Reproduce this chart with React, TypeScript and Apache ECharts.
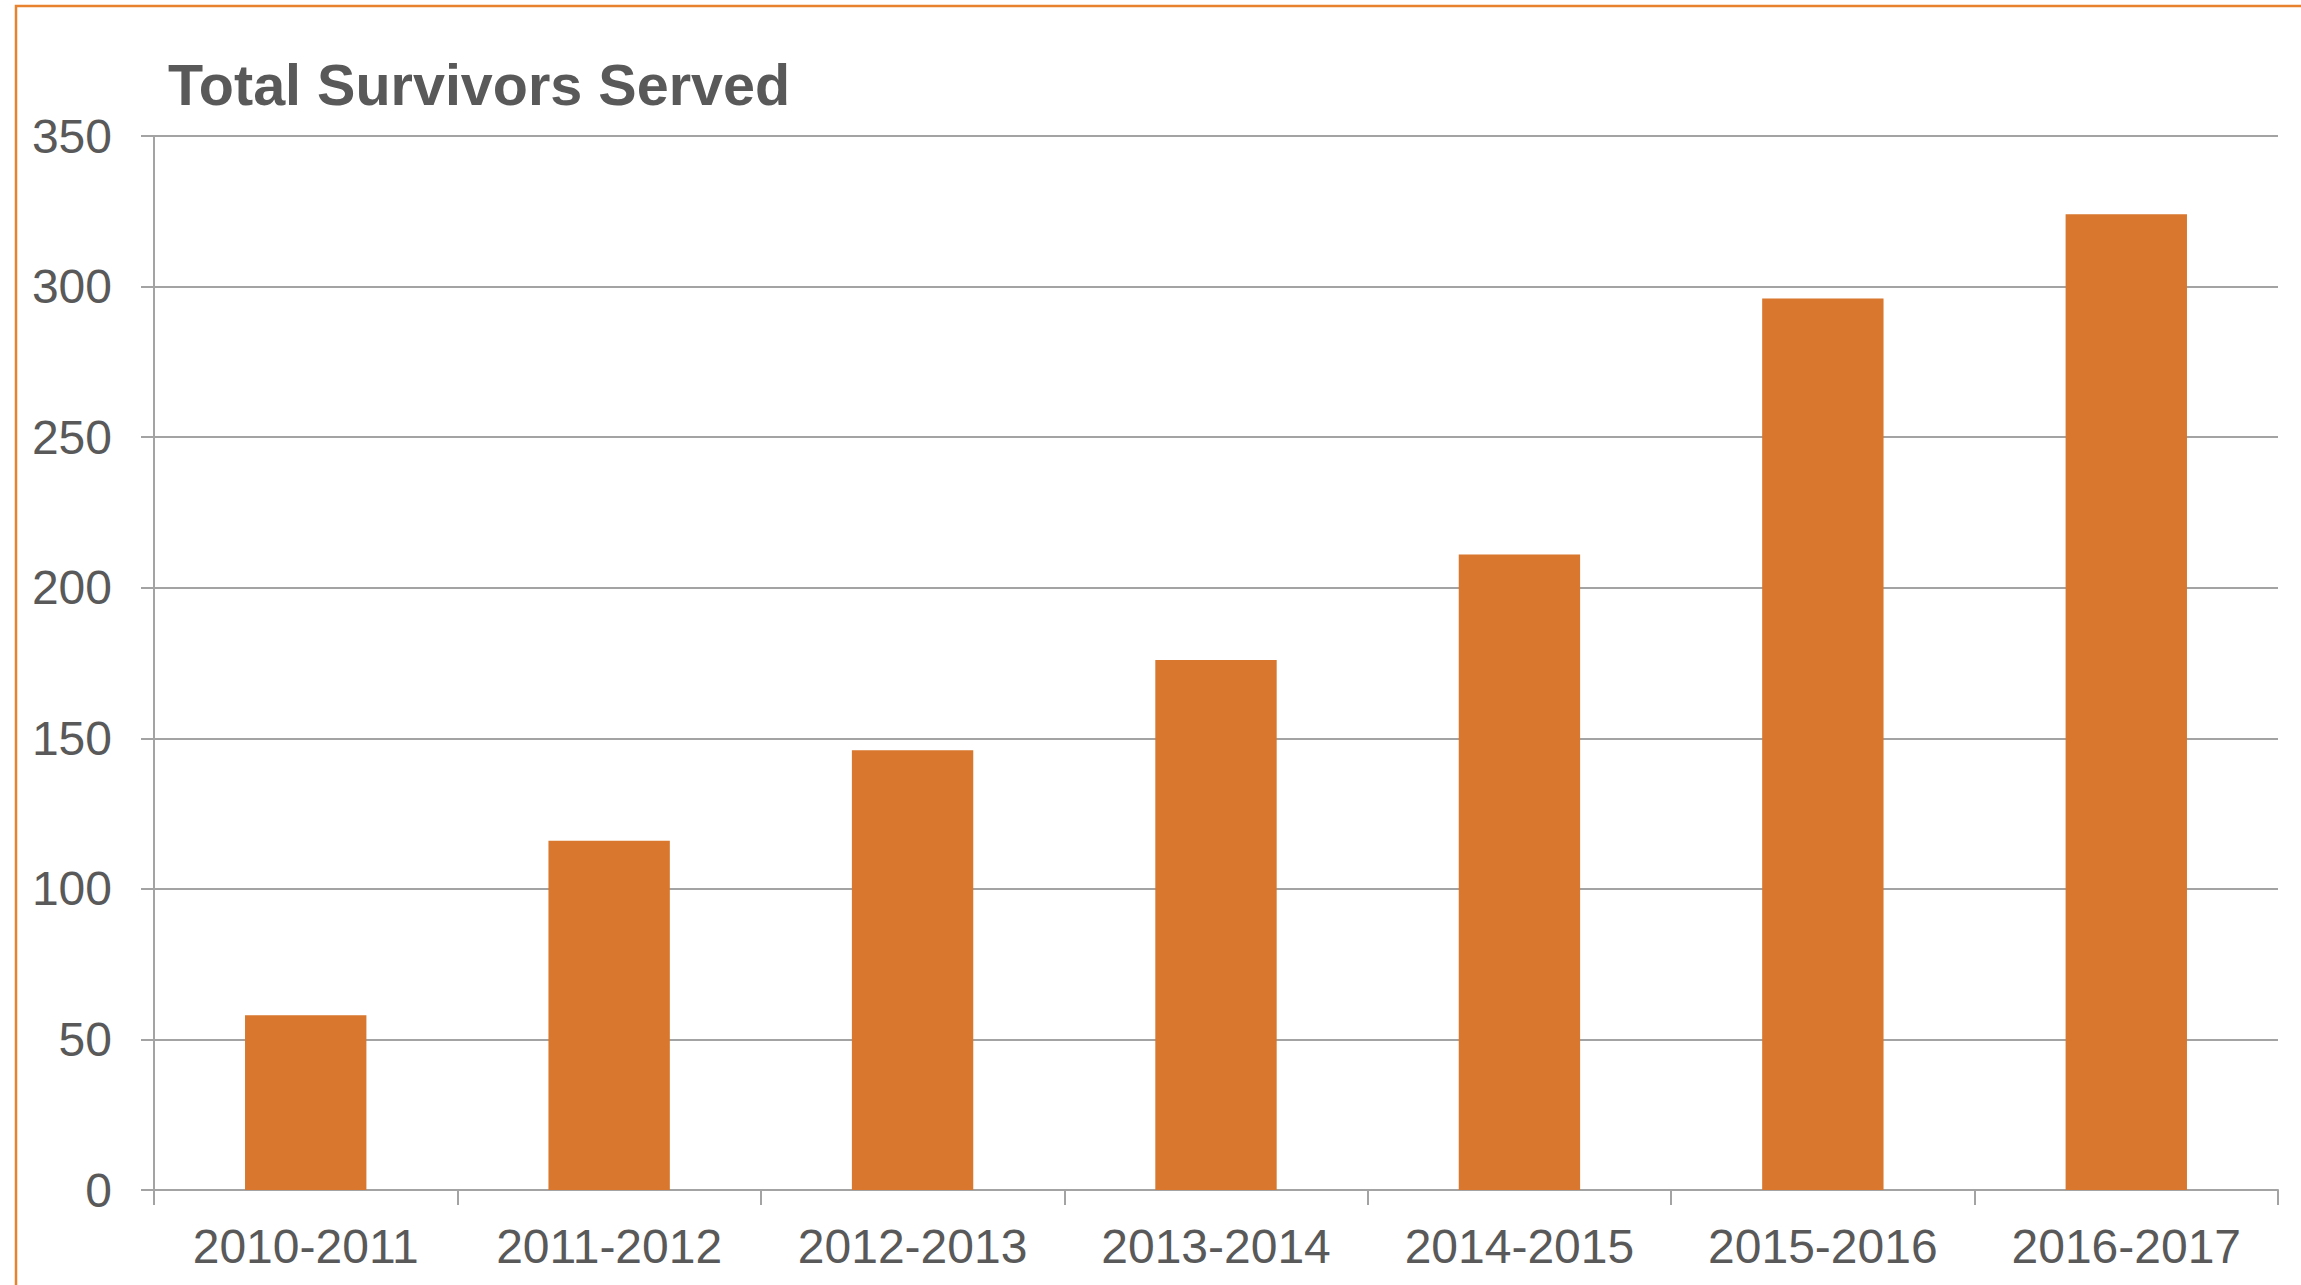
import React, { useEffect, useRef } from "react";
import * as echarts from "echarts";

const categories = ["2010-2011", "2011-2012", "2012-2013", "2013-2014", "2014-2015", "2015-2016", "2016-2017"];
const survivors = [58, 116, 146, 176, 211, 296, 324];
const titleText = "Total Survivors Served";

const FONT = "'Liberation Sans', Arial, sans-serif";
const TEXT = "#595959";
const GRID = "#A3A3A3";
const BAR = "#D8772D";
const BORDER = "#E8822F";

export default function App() {
  const ref = useRef<HTMLDivElement>(null);
  useEffect(() => {
    if (!ref.current) return;
    const chart = echarts.init(ref.current, null, { renderer: "svg" });
    chart.setOption({
      animation: false,
      backgroundColor: "#FFFFFF",
      title: {
        text: titleText,
        left: 168,
        top: 56,
        padding: 0,
        textStyle: { fontFamily: FONT, fontSize: 57.5, fontWeight: "bold", color: TEXT },
      },
      graphic: [
        {
          type: "rect",
          shape: { x: 16, y: 6, width: 4000, height: 4000 },
          style: { fill: "none", stroke: BORDER, lineWidth: 2.5 },
          silent: true,
        },
      ],
      grid: { left: 154, right: 23, top: 136, bottom: 95, containLabel: false },
      xAxis: {
        type: "category",
        data: categories,
        axisLine: { show: true, lineStyle: { color: GRID, width: 2 } },
        axisTick: { show: true, length: 15, alignWithLabel: false, lineStyle: { color: GRID, width: 2 } },
        axisLabel: { margin: 32, fontFamily: FONT, fontSize: 48, color: TEXT, interval: 0 },
        splitLine: { show: false },
      },
      yAxis: {
        type: "value",
        min: 0,
        max: 350,
        interval: 50,
        axisLine: { show: true, lineStyle: { color: GRID, width: 2 } },
        axisTick: { show: true, length: 13, lineStyle: { color: GRID, width: 2 } },
        axisLabel: { margin: 42, fontFamily: FONT, fontSize: 48, color: TEXT },
        splitLine: { show: true, lineStyle: { color: GRID, width: 2 } },
      },
      series: [
        {
          type: "bar",
          data: survivors,
          barWidth: "40%",
          itemStyle: { color: BAR },
        },
      ],
    });
    return () => chart.dispose();
  }, []);
  return (
    <div
      ref={ref}
      style={{ position: "fixed", left: 0, top: 0, width: 2301, height: 1285, background: "#fff" }}
    />
  );
}
